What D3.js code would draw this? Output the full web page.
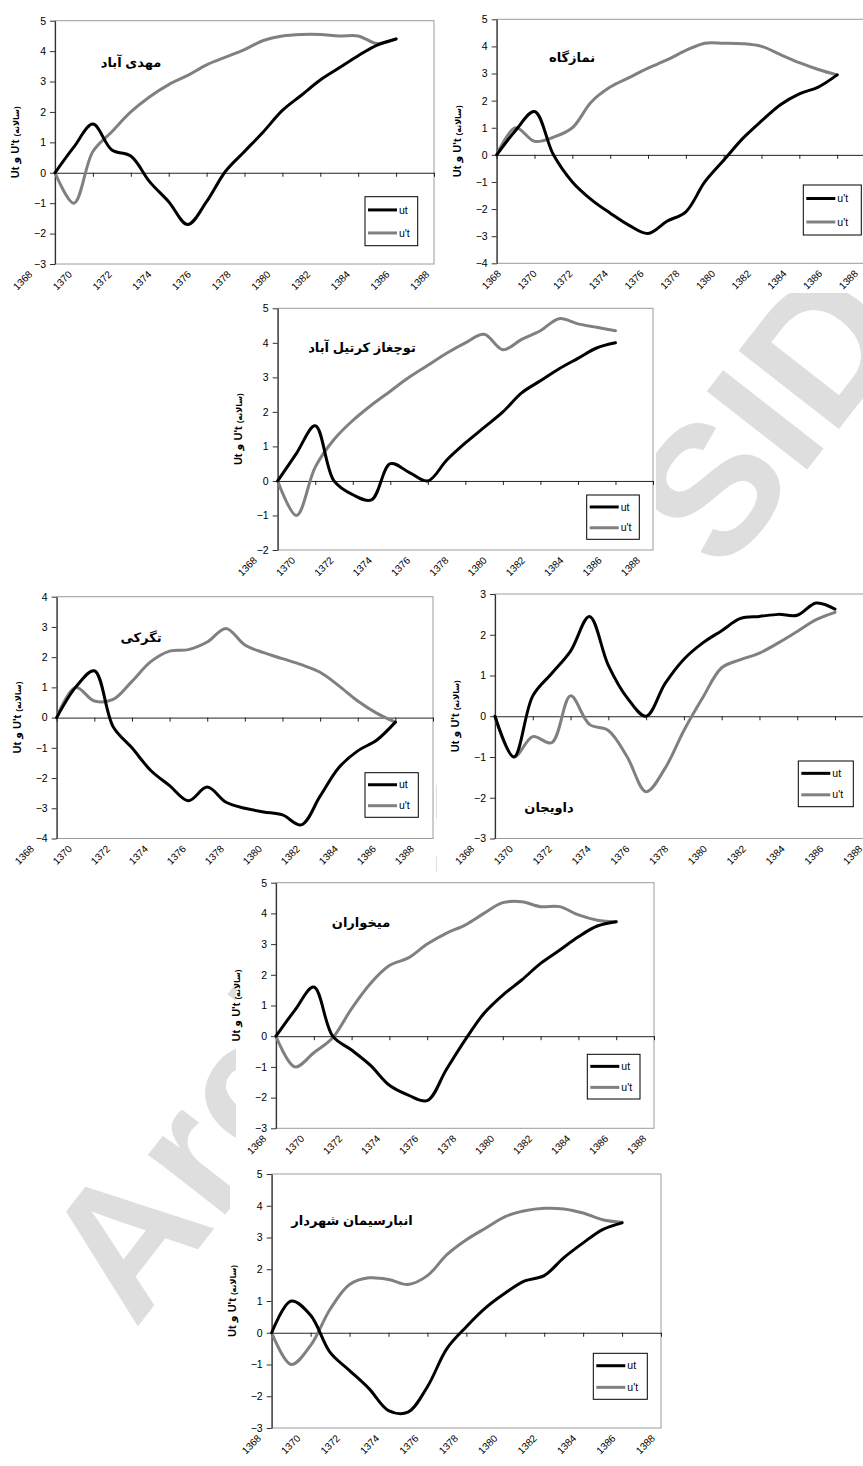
<!DOCTYPE html>
<html>
<head>
<meta charset="utf-8">
<script src="https://cdn.jsdelivr.net/npm/d3@7"></script>
<style>
  body { margin: 0; background: #fff; }
  svg { display: block; }
  text { font-family: "Liberation Sans", "DejaVu Sans", Arial, sans-serif; }
</style>
</head>
<body>
<svg id="chart" width="863" height="1466"></svg>
<script>
// ---- data -------------------------------------------------------------
const years = [1368, 1369, 1370, 1371, 1372, 1373, 1374, 1375, 1376, 1377,
               1378, 1379, 1380, 1381, 1382, 1383, 1384, 1385, 1386];
const xTickValues = [1368, 1370, 1372, 1374, 1376, 1378, 1380, 1382, 1384, 1386, 1388];

const stationTitles = ["مهدی  آباد", "نمازگاه", "توچغاز کرتیل آباد", "تگرکی",
                       "داویجان", "میخواران", "انبارسیمان شهردار"];
const legendLabels = ["ut", "u't"];
const legendLabelsNamazgah = ["u't", "u't"];
const yTitleMain = "Ut و U't ";
const yTitleUnit = "(سالانه)";
const watermarkText = "Archive of SID";

const mahdiAbadUt  = [0, 0.85, 1.6, 0.75, 0.55, -0.3, -0.95, -1.7, -0.95, 0.05, 0.7, 1.35, 2.05, 2.55, 3.05, 3.45, 3.85, 4.2, 4.4];
const mahdiAbadUpt = [0, -1.0, 0.7, 1.35, 2.0, 2.5, 2.9, 3.2, 3.55, 3.8, 4.05, 4.35, 4.5, 4.55, 4.55, 4.5, 4.5, 4.25, 4.4];

const namazgahUt   = [0, 0.9, 1.6, 0.0, -1.0, -1.65, -2.15, -2.6, -2.9, -2.45, -2.1, -1.0, -0.2, 0.6, 1.25, 1.85, 2.25, 2.5, 2.95];
const namazgahUpt  = [0, 1.0, 0.5, 0.65, 1.0, 1.95, 2.5, 2.85, 3.2, 3.5, 3.85, 4.12, 4.12, 4.1, 4.0, 3.7, 3.4, 3.15, 2.95];

const tochghazUt   = [0, 0.8, 1.6, 0.0, -0.4, -0.55, 0.5, 0.25, 0.0, 0.6, 1.1, 1.55, 2.0, 2.55, 2.9, 3.25, 3.55, 3.85, 4.0];
const tochghazUpt  = [0, -1.0, 0.4, 1.2, 1.75, 2.2, 2.6, 3.0, 3.35, 3.7, 4.0, 4.25, 3.8, 4.1, 4.35, 4.7, 4.55, 4.45, 4.35];

const tagarakiUt   = [0, 1.0, 1.55, -0.3, -1.0, -1.75, -2.25, -2.75, -2.3, -2.8, -3.0, -3.12, -3.22, -3.55, -2.6, -1.65, -1.1, -0.75, -0.15];
const tagarakiUpt  = [0, 1.0, 0.55, 0.6, 1.2, 1.85, 2.2, 2.25, 2.5, 2.95, 2.4, 2.15, 1.95, 1.75, 1.5, 1.05, 0.55, 0.15, -0.15];

const davijanUt    = [0, -1.0, 0.5, 1.05, 1.6, 2.45, 1.25, 0.45, 0.0, 0.8, 1.4, 1.8, 2.1, 2.4, 2.45, 2.5, 2.48, 2.78, 2.63];
const davijanUpt   = [0, -1.0, -0.5, -0.65, 0.5, -0.2, -0.35, -1.0, -1.85, -1.28, -0.35, 0.46, 1.19, 1.39, 1.55, 1.8, 2.08, 2.37, 2.55];

const meykhoranUt  = [0, 0.85, 1.6, 0.0, -0.45, -0.95, -1.6, -1.92, -2.1, -1.1, -0.13, 0.74, 1.34, 1.83, 2.37, 2.8, 3.24, 3.59, 3.73];
const meykhoranUpt = [0, -1.0, -0.54, -0.05, 0.9, 1.72, 2.3, 2.55, 3.0, 3.35, 3.62, 4.0, 4.35, 4.38, 4.22, 4.22, 3.95, 3.78, 3.73];

const anbarUt      = [0, 1.0, 0.55, -0.62, -1.19, -1.76, -2.45, -2.5, -1.7, -0.5, 0.19, 0.79, 1.25, 1.63, 1.8, 2.36, 2.83, 3.25, 3.46];
const anbarUpt     = [0, -1.0, -0.4, 0.74, 1.52, 1.73, 1.68, 1.52, 1.8, 2.46, 2.93, 3.3, 3.66, 3.84, 3.92, 3.9, 3.77, 3.56, 3.48];

// ---- layout of the seven small charts ---------------------------------
// L/T/R/B: plot area; area: white chart background; tx/ty: station name;
// lg: legend box; lab: offset and spacing of the slanted year labels
const panels = [
  { title: stationTitles[0], ut: mahdiAbadUt, upt: mahdiAbadUpt, legend: legendLabels,
    yDomain: [-3, 5], L: 55, T: 20.7, R: 434, B: 264, tx: 131, ty: 62,
    area: [0, 0, 436, 293], lg: [365, 196.7, 52.7, 49], lab: [-22, 39.7] },
  { title: stationTitles[1], ut: namazgahUt, upt: namazgahUpt, legend: legendLabelsNamazgah,
    yDomain: [-4, 5], L: 496.7, T: 19.3, R: 875, B: 263.3, tx: 572, ty: 57,
    area: [437, 0, 426, 293], lg: [803.3, 185, 58, 50], lab: [5, 35.7] },
  { title: stationTitles[2], ut: tochghazUt, upt: tochghazUpt, legend: legendLabels,
    yDomain: [-2, 5], L: 277.7, T: 308.3, R: 653, B: 550, tx: 362, ty: 347,
    area: [232, 294, 424, 296], lg: [586.7, 495, 52.6, 44.3], lab: [-20, 38.3] },
  { title: stationTitles[3], ut: tagarakiUt, upt: tagarakiUpt, legend: legendLabels,
    yDomain: [-4, 4], L: 56.7, T: 596.7, R: 433, B: 838.5, tx: 141, ty: 637,
    area: [0, 590, 436, 288], lg: [365, 772.7, 53.3, 44.6], lab: [-22, 38] },
  { title: stationTitles[4], ut: davijanUt, upt: davijanUpt, legend: legendLabels,
    yDomain: [-3, 3], L: 495, T: 594, R: 872.8, B: 838.5, tx: 549, ty: 807,
    area: [437, 590, 426, 288], lg: [798.3, 761, 55, 45.7], lab: [-20, 38.8] },
  { title: stationTitles[5], ut: meykhoranUt, upt: meykhoranUpt, legend: legendLabels,
    yDomain: [-3, 5], L: 276, T: 882.7, R: 654, B: 1128.3, tx: 361, ty: 922,
    area: [236, 872, 420, 290], lg: [587.3, 1054.3, 52.7, 44.7], lab: [-9, 38] },
  { title: stationTitles[6], ut: anbarUt, upt: anbarUpt, legend: legendLabels,
    yDomain: [-3, 5], L: 271.7, T: 1174, R: 661, B: 1428, tx: 352, ty: 1220,
    area: [230, 1164, 435, 302], lg: [593.3, 1353.3, 54, 46], lab: [-10, 39.4] }
];

const svg = d3.select("#chart");

// faint diagonal watermark; the white chart areas sit on top of it
svg.append("text")
  .attr("transform", "translate(135,1330) rotate(-52)")
  .attr("font-family", "Liberation Serif, serif")
  .attr("font-weight", "bold")
  .attr("font-size", 185)
  .attr("fill", "#dedede")
  .text(watermarkText);

const utColor = "#000000";
const uptColor = "#808080";

function drawPanel(p) {
  const g = svg.append("g");
  const x = d3.scaleLinear().domain([1368, 1388]).range([p.L, p.R]);
  const y = d3.scaleLinear().domain(p.yDomain).range([p.B, p.T]);
  const labelX = d3.scaleLinear().domain([1368, 1388])
    .range([p.L + p.lab[0], p.L + p.lab[0] + 10 * p.lab[1]]);

  // chart background
  g.append("rect")
    .attr("x", p.area[0]).attr("y", p.area[1])
    .attr("width", p.area[2]).attr("height", p.area[3])
    .attr("fill", "#fff");

  // plot-area frame
  g.append("rect")
    .attr("x", p.L).attr("y", p.T)
    .attr("width", p.R - p.L).attr("height", p.B - p.T)
    .attr("fill", "none").attr("stroke", "#9c9c9c").attr("stroke-width", 1);

  // value axis
  const yAxis = d3.axisLeft(y)
    .ticks(p.yDomain[1] - p.yDomain[0])
    .tickSize(5).tickSizeOuter(0).tickPadding(4)
    .tickFormat(d3.format("d"));
  const ya = g.append("g").attr("transform", `translate(${p.L},0)`).call(yAxis);
  ya.select(".domain").attr("stroke", "#333").attr("stroke-width", 1.2);
  ya.selectAll(".tick line").attr("stroke", "#333");
  ya.selectAll(".tick text")
    .attr("font-size", 10.5)
    .attr("font-family", "Liberation Sans, Arial, sans-serif")
    .attr("fill", "#000");

  // year axis drawn on the zero line
  const xAxis = d3.axisBottom(x).tickValues(xTickValues)
    .tickSize(4).tickSizeOuter(0).tickFormat("");
  const xa = g.append("g").attr("transform", `translate(0,${y(0)})`).call(xAxis);
  xa.select(".domain").attr("stroke", "#222").attr("stroke-width", 1);
  xa.selectAll(".tick line").attr("stroke", "#222");

  // slanted year labels under the plot
  g.append("g").selectAll("text")
    .data(xTickValues)
    .join("text")
    .attr("transform", d => `translate(${labelX(d)},${p.B + 11}) rotate(-45)`)
    .attr("text-anchor", "end")
    .attr("font-size", 10)
    .attr("fill", "#000")
    .text(d => d);

  // curves
  const line = d3.line()
    .x((d, i) => x(years[i]))
    .y(d => y(d))
    .curve(d3.curveCatmullRom.alpha(0.5));
  g.append("path").datum(p.upt)
    .attr("d", line).attr("fill", "none")
    .attr("stroke", uptColor).attr("stroke-width", 3)
    .attr("stroke-linejoin", "round").attr("stroke-linecap", "round");
  g.append("path").datum(p.ut)
    .attr("d", line).attr("fill", "none")
    .attr("stroke", utColor).attr("stroke-width", 3)
    .attr("stroke-linejoin", "round").attr("stroke-linecap", "round");

  // station name
  g.append("text")
    .attr("x", p.tx).attr("y", p.ty)
    .attr("dy", "0.35em")
    .attr("text-anchor", "middle")
    .attr("direction", "rtl")
    .attr("font-family", "DejaVu Sans, sans-serif")
    .attr("font-weight", "bold")
    .attr("font-size", 13)
    .attr("fill", "#000")
    .text(p.title);

  // vertical axis title
  const yt = g.append("text")
    .attr("transform", `translate(${p.L - 36},${(p.T + p.B) / 2}) rotate(-90)`)
    .attr("text-anchor", "middle")
    .attr("font-weight", "bold")
    .attr("fill", "#000");
  yt.append("tspan").attr("font-size", 11).text(yTitleMain);
  yt.append("tspan").attr("font-size", 8).text(yTitleUnit);

  // legend
  const [lx, ly, lw, lh] = p.lg;
  const lgG = g.append("g");
  lgG.append("rect")
    .attr("x", lx).attr("y", ly).attr("width", lw).attr("height", lh)
    .attr("fill", "#fff").attr("stroke", "#000").attr("stroke-width", 1);
  [utColor, uptColor].forEach((c, i) => {
    const yy = ly + lh * (i === 0 ? 0.27 : 0.74);
    lgG.append("line")
      .attr("x1", lx + 3).attr("x2", lx + 32)
      .attr("y1", yy).attr("y2", yy)
      .attr("stroke", c).attr("stroke-width", 3);
    lgG.append("text")
      .attr("x", lx + 34).attr("y", yy).attr("dy", "0.35em")
      .attr("font-size", 10.5).attr("fill", "#000")
      .text(p.legend[i]);
  });
}

panels.forEach(drawPanel);
</script>
</body>
</html>
